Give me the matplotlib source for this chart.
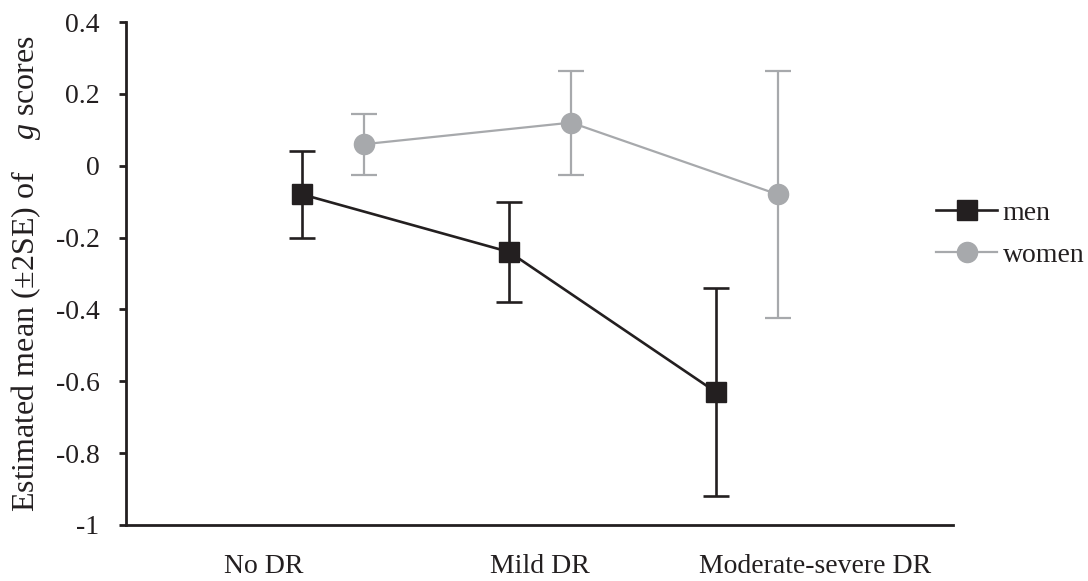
import numpy as np
import matplotlib
matplotlib.use("Agg")
import matplotlib.pyplot as plt

# данные
categories = ["No DR", "Mild DR", "Moderate-severe DR"]
men_x = [0.64, 1.39, 2.14]
women_x = [0.865, 1.615, 2.365]
men_mean = [-0.08, -0.24, -0.63]
men_lo = [-0.20, -0.38, -0.92]
men_hi = [0.04, -0.10, -0.34]
women_mean = [0.06, 0.12, -0.08]
women_lo = [-0.025, -0.025, -0.425]
women_hi = [0.145, 0.265, 0.265]
yticks = [0.4, 0.2, 0, -0.2, -0.4, -0.6, -0.8, -1]
ytick_labels = ["0.4", "0.2", "0", "-0.2", "-0.4", "-0.6", "-0.8", "-1"]

plt.rcParams["font.family"] = ["Liberation Serif", "DejaVu Serif"]
plt.rcParams["mathtext.fontset"] = "custom"
plt.rcParams["mathtext.it"] = "Liberation Serif:italic"
plt.rcParams["mathtext.rm"] = "Liberation Serif"

dark = "#231f20"
grey = "#a7a9ac"

fig = plt.figure(figsize=(10.88, 5.81), dpi=100)
ax = fig.add_axes([126 / 1088, 56 / 581, (953 - 126) / 1088, (525 - 22) / 581])

def draw(x, mean, lo, hi, color, marker, ms, lw, label):
    mean = np.array(mean)
    yerr = [mean - np.array(lo), np.array(hi) - mean]
    ax.errorbar(x, mean, yerr=yerr, fmt="none", ecolor=color, elinewidth=lw,
                capsize=9.5, capthick=lw, zorder=2)
    line, = ax.plot(x, mean, color=color, lw=lw, marker=marker, ms=ms,
                    markerfacecolor=color, markeredgecolor=color, label=label, zorder=3)
    return line

l_women = draw(women_x, women_mean, women_lo, women_hi, grey, "o", 14.5, 1.6, "women")
l_men = draw(men_x, men_mean, men_lo, men_hi, dark, "s", 14.5, 1.9, "men")

ax.set_xlim(0, 3)
ax.set_ylim(-1, 0.4)
ax.set_yticks(yticks)
ax.set_yticklabels(ytick_labels)
ax.set_xticks([0.5, 1.5, 2.5])
ax.set_xticklabels(categories)

for s in ["top", "right"]:
    ax.spines[s].set_visible(False)
for s in ["left", "bottom"]:
    ax.spines[s].set_linewidth(2)
    ax.spines[s].set_color(dark)

ax.tick_params(axis="y", direction="out", length=5, width=2, color=dark,
               labelsize=20, pad=14, labelcolor=dark)
ax.tick_params(axis="x", length=0, labelsize=20, pad=21, labelcolor=dark)

ax.set_ylabel("Estimated mean (±2SE) of    $\\it{g}$ scores", fontsize=23,
              color=dark, labelpad=9)

fig.legend(handles=[l_men, l_women], loc="center left",
           bbox_to_anchor=(936 / 1088, 1 - 234 / 581), frameon=False,
           fontsize=20, handlelength=2.2, handletextpad=0.2, labelspacing=0.6,
           borderaxespad=0, borderpad=0, labelcolor=dark)

fig.savefig("out.png", dpi=100)
